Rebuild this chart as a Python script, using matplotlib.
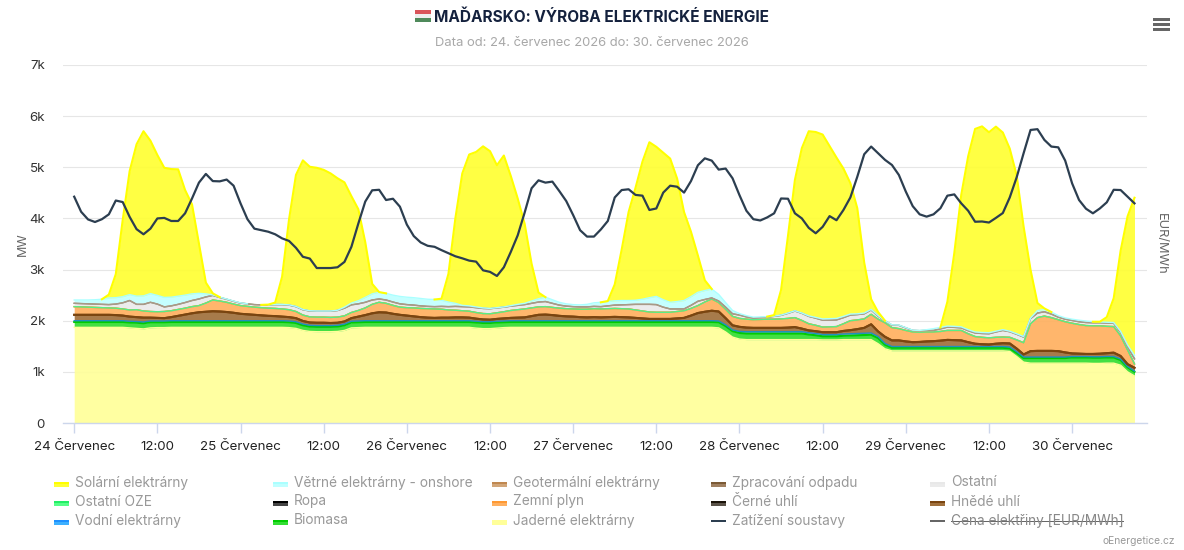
import numpy as np
import matplotlib
matplotlib.use("Agg")
import matplotlib.pyplot as plt
from matplotlib.patches import Rectangle

plt.rcParams['font.family'] = ['Inter', 'DejaVu Sans']

W, H = 1184, 550

tick_hours = [0, 12, 24, 36, 48, 60, 72, 84, 96, 108, 120, 132, 144]
tick_labels = ['24 Červenec', '12:00', '25 Červenec', '12:00', '26 Červenec', '12:00', '27 Červenec',
               '12:00', '28 Červenec', '12:00', '29 Červenec', '12:00', '30 Červenec']
y_ticks = [0, 1000, 2000, 3000, 4000, 5000, 6000, 7000]
y_labels = ['0', '1k', '2k', '3k', '4k', '5k', '6k', '7k']

nuclear = [1870,1870,1870,1870,1870,1870,1870,1870,1860,1850,1840,1860,1865,1865,1870,1870,1870,1870,1870,1870,1870,1870,1870,1870,
           1870,1870,1870,1870,1870,1870,1870,1865,1850,1810,1790,1785,1785,1785,1790,1810,1860,1865,1870,1870,1870,1870,1870,1870,
           1870,1870,1870,1870,1870,1870,1870,1870,1870,1870,1855,1845,1845,1855,1865,1870,1870,1870,1870,1870,1870,1870,1870,1870,
           1870,1870,1870,1870,1870,1870,1870,1870,1870,1870,1870,1870,1870,1870,1870,1870,1870,1870,1870,1870,1870,1860,1780,1680,
           1640,1630,1630,1630,1630,1630,1630,1630,1630,1630,1630,1630,1625,1625,1625,1630,1630,1630,1630,1630,1550,1450,1410,1410,
           1410,1410,1410,1410,1410,1410,1410,1410,1410,1410,1410,1410,1410,1410,1410,1400,1300,1190,1170,1170,1170,1170,1170,1170,
           1170,1170,1170,1165,1165,1170,1170,1130,1000,920]
biomass = [105,105,105,105,105,105,105,105,105,110,110,110,105,105,105,105,105,105,105,105,105,105,105,105,
           105,105,105,105,105,105,105,105,105,100,95,95,95,95,95,100,105,105,105,105,105,105,105,105,
           105,105,105,105,105,105,105,105,105,105,110,110,110,110,105,105,105,105,105,105,105,105,105,105,
           105,105,105,105,105,105,105,105,105,105,105,105,105,105,105,105,105,105,105,105,105,110,115,115,
           120,120,120,120,120,120,120,120,120,120,100,85,70,70,70,75,80,85,90,95,110,80,60,60,
           60,60,60,60,60,60,60,60,60,60,60,60,60,60,60,60,70,80,100,100,100,100,100,100,
           110,110,110,110,110,110,110,100,90,80]
hydro = [25,25,25,25,25,25,25,25,25,25,25,25,25,25,25,25,25,25,25,25,25,25,25,25,
         25,25,25,25,25,25,25,25,25,25,25,25,25,25,25,25,25,25,25,25,25,25,25,25,
         25,25,25,25,25,25,25,25,25,25,25,25,25,25,25,25,25,25,25,25,25,25,25,25,
         25,25,25,25,25,25,25,25,25,25,25,25,25,25,25,25,25,25,25,25,25,25,25,25,
         30,35,35,35,35,35,35,35,35,35,35,35,35,35,35,35,35,35,35,35,30,25,25,25,
         25,25,25,25,25,25,25,25,25,25,25,25,25,25,25,25,25,20,20,20,20,20,20,20,
         20,20,20,20,20,20,20,20,15,15]
lignite = [115,115,115,115,115,115,110,100,90,85,85,65,60,55,70,95,120,145,165,175,185,180,170,155,
           135,125,115,105,95,90,80,75,70,60,55,55,55,50,50,50,60,85,110,145,165,160,135,115,
           100,85,70,60,55,60,60,65,65,60,50,45,40,45,50,55,60,65,90,115,120,110,95,85,
           80,70,65,70,65,70,75,70,65,55,45,35,35,35,35,45,55,100,150,175,195,185,130,90,
           90,80,75,75,75,75,75,80,90,60,45,45,45,45,45,60,70,85,105,170,100,130,120,120,
           100,85,90,100,105,115,130,125,120,85,55,45,40,55,65,70,60,50,115,120,120,120,115,90,
           60,55,50,55,60,65,75,60,45,65]
gas = [160,155,150,145,140,135,135,130,130,145,130,120,120,130,125,125,125,130,130,170,220,205,190,170,
       160,155,150,150,150,150,150,145,130,115,110,110,110,110,110,110,110,120,140,175,195,180,165,150,
       155,165,170,175,175,165,150,140,130,125,120,115,115,120,130,145,155,165,160,155,155,150,150,150,
       150,155,160,165,165,165,165,165,165,155,145,135,130,130,130,135,140,140,145,190,230,175,175,175,
       165,165,160,165,170,170,175,180,185,160,130,115,100,105,110,140,185,180,175,195,240,275,250,230,
       215,200,190,185,180,180,185,190,195,165,140,135,130,125,120,120,170,230,535,650,680,650,615,600,
       590,570,555,550,545,525,510,395,280,75]
other = [65,65,65,65,65,65,80,120,185,105,130,180,150,90,95,100,110,120,130,120,90,70,60,55,
         50,50,50,55,65,75,85,90,95,105,115,115,115,120,130,150,150,130,110,85,65,65,65,65,
         60,55,50,45,45,55,65,75,80,85,95,100,100,95,90,85,85,85,90,95,100,80,60,50,
         45,45,45,45,45,55,65,75,85,110,130,150,150,100,65,50,35,60,85,50,20,30,40,50,
         65,45,30,35,40,55,70,100,130,140,145,140,135,130,130,120,110,105,100,85,60,35,50,65,
         50,30,30,30,30,50,65,60,50,60,70,75,80,105,130,110,110,110,100,90,85,70,50,50,
         55,55,60,60,60,65,65,65,65,100]
wind = [65,70,75,85,100,130,125,120,115,160,165,170,170,185,170,160,145,130,110,60,10,5,5,5,
        5,0,0,0,0,5,5,5,5,5,5,5,5,5,5,20,35,60,95,120,130,130,135,145,
        145,145,145,140,140,120,90,60,25,20,15,10,5,5,5,10,20,25,45,65,85,70,55,45,
        40,40,50,70,85,85,85,85,80,80,100,130,160,145,130,145,165,170,175,175,175,130,90,65,
        30,25,20,15,10,5,5,5,5,5,10,15,25,30,30,25,20,15,15,10,10,5,5,5,
        5,5,5,15,35,30,20,20,20,20,20,20,20,15,15,10,10,10,10,50,45,40,30,25,
        25,30,30,20,15,15,15,20,30,65]
solar = [0,0,0,0,0,65,460,1500,2415,2970,3220,2990,2745,2535,2505,2480,2055,1750,970,220,30,0,0,0,
         0,0,0,0,5,35,540,1670,2570,2915,2815,2800,2760,2690,2580,2440,2090,1790,1080,195,5,0,0,0,
         0,0,0,0,0,30,550,1660,2580,2960,3030,3160,3075,2785,2960,2535,2070,1555,730,120,0,0,0,0,
         0,0,0,0,0,10,320,995,1730,2200,2690,3040,2925,2875,2810,2405,1730,1270,720,200,0,0,0,0,
         0,0,0,0,0,20,490,1510,2560,3225,3610,3625,3605,3375,3145,2890,2560,2065,985,200,70,0,0,0,
         0,0,0,0,0,0,475,1435,2580,3390,3970,4030,3920,4000,3855,3570,3095,2150,945,145,20,0,0,0,
         0,0,0,0,5,100,475,1580,2515,3085]
load = [4425,4130,3980,3930,3985,4080,4350,4320,4030,3790,3690,3800,4000,4010,3950,3950,4100,4390,4700,4870,4730,4725,4760,4640,
        4295,3985,3800,3770,3740,3690,3610,3560,3425,3250,3215,3030,3030,3030,3045,3150,3445,3900,4330,4550,4560,4360,4385,4230,
        3880,3655,3530,3465,3445,3380,3320,3260,3220,3175,3155,2985,2955,2875,3045,3345,3670,4115,4590,4745,4700,4720,4535,4340,
        4065,3770,3645,3645,3785,3950,4410,4555,4570,4460,4445,4165,4195,4505,4640,4620,4505,4730,5040,5175,5130,4955,4975,4785,
        4455,4150,3985,3960,4020,4100,4390,4385,4100,4000,3815,3710,3835,4045,3965,4165,4410,4815,5255,5405,5275,5145,5045,4850,
        4525,4240,4080,4035,4080,4200,4445,4470,4295,4150,3935,3940,3920,4010,4105,4410,4805,5275,5730,5745,5535,5405,5390,5130,
        4685,4360,4190,4100,4195,4315,4560,4555,4425,4295]
zero_series = [0] * len(nuclear)

hours = np.arange(len(nuclear))

stack = [
    ('Jaderné elektrárny', nuclear, '#ffff99', '#ffff99'),
    ('Biomasa', biomass, '#33dd33', '#00cc00'),
    ('Vodní elektrárny', hydro, '#3db0ff', '#1e90c0'),
    ('Hnědé uhlí', lignite, '#a0703c', '#7a4510'),
    ('Černé uhlí', zero_series, '#5a5248', '#7a4510'),
    ('Zemní plyn', gas, '#ffb060', '#ff9933'),
    ('Ropa', zero_series, '#444444', '#ff9933'),
    ('Ostatní OZE', zero_series, '#55ff88', '#55ee88'),
    ('Ostatní', other, '#ebebeb', '#e4e4e4'),
    ('Zpracování odpadu', zero_series, '#a08060', '#9a8a70'),
    ('Geotermální elektrárny', zero_series, '#d2a679', '#a89a88'),
    ('Větrné elektrárny - onshore', wind, '#c0ffff', '#aaffff'),
    ('Solární elektrárny', solar, '#ffff33', '#ffff00'),
]

fig = plt.figure(figsize=(W / 100, H / 100), dpi=100)
L, R, T, B = 63, 1147, 65, 423
ax = fig.add_axes([L / W, 1 - B / H, (R - L) / W, (B - T) / H])
ax.set_xlim((L - 74.2) / 6.93, (R - 74.2) / 6.93)
ax.set_ylim(0, 7000)

base = np.zeros(len(hours))
for name, vals, fill, line in stack:
    v = np.array(vals, dtype=float)
    top = base + v
    ax.fill_between(hours, base, top, color=fill, lw=0, alpha=0.92, zorder=2)
    lt = top.copy()
    if name in ('Solární elektrárny', 'Větrné elektrárny - onshore'):
        on = np.convolve(v > 0, [1, 1, 1], mode='same') > 0
        lt[~on] = np.nan
    lw = 1.5 if name in ('Hnědé uhlí', 'Solární elektrárny', 'Biomasa', 'Černé uhlí') else 1.0
    ax.plot(hours, lt, color=line, lw=lw, zorder=3, solid_joinstyle='round')
    base = top

ax.plot(hours, load, color='#2c3e50', lw=1.6, zorder=5, solid_joinstyle='round')

for s in ('top', 'left', 'right'):
    ax.spines[s].set_visible(False)
ax.spines['bottom'].set_color('#ccd6eb')
ax.spines['bottom'].set_linewidth(1)
ax.set_yticks(y_ticks)
ax.set_yticklabels(y_labels, fontsize=9.6, color='#333333')
ax.tick_params(axis='y', length=0, pad=13)
ax.yaxis.grid(True, color='#e6e6e6', lw=0.8, zorder=0)
ax.set_axisbelow(True)
ax.set_xticks(tick_hours)
ax.set_xticklabels(tick_labels, fontsize=9.6, color='#222222')
ax.tick_params(axis='x', length=7.2, width=1, color='#ccd6eb', pad=6)


def px(x, y):
    return x / W, 1 - y / H


def ftext(x, y, s, **kw):
    xx, yy = px(x, y)
    return fig.text(xx, yy, s, va=kw.pop('va', 'center'), **kw)


def frect(x0, y0, x1, y1, color):
    xa, ya = px(x0, y1)
    fig.add_artist(Rectangle((xa, ya), (x1 - x0) / W, (y1 - y0) / H, transform=fig.transFigure,
                             facecolor=color, edgecolor='none'))


ftext(22.5, 244, 'MW', rotation=90, ha='center', fontsize=9, color='#666666')
ftext(1160.5, 244, 'EUR/MWh', rotation=270, ha='center', fontsize=9.2, color='#666666')

ftext(602, 17.5, 'MAĎARSKO: VÝROBA ELEKTRICKÉ ENERGIE', ha='center', fontsize=11.1, fontweight='bold', color='#14213d')
ftext(592, 43.5, 'Data od: 24. červenec 2026 do: 30. červenec 2026', ha='center', fontsize=9.35, color='#a8a8a8')
frect(415, 10, 431, 14, '#d9545a')
frect(415, 14, 431, 18, '#eeeeee')
frect(415, 18, 431, 22, '#4f8a5b')

for y in (19.5, 24.5, 29.5):
    frect(1152.5, y - 1.5, 1169.5, y + 1.5, '#666666')

cols = [(54, 75), (273, 294), (492, 513), (711, 732), (930, 951)]
rows = [483, 502, 521]
entries = [
    ('Solární elektrárny', '#ffff33', '#ffff00'), ('Větrné elektrárny - onshore', '#c0ffff', '#aaffff'),
    ('Geotermální elektrárny', '#d2a679', '#c08850'), ('Zpracování odpadu', '#a08060', '#7b5a35'),
    ('Ostatní', '#ebebeb', '#e8e8e8'),
    ('Ostatní OZE', '#55ff88', '#22ee66'), ('Ropa', '#444444', '#000000'),
    ('Zemní plyn', '#ffb060', '#ff9933'), ('Černé uhlí', '#5a5248', '#1a1208'),
    ('Hnědé uhlí', '#a0703c', '#7a4510'),
    ('Vodní elektrárny', '#3db0ff', '#1e90ff'), ('Biomasa', '#33dd33', '#00cc00'),
    ('Jaderné elektrárny', '#ffff99', '#ffff99'),
]
for i, (name, fill, line) in enumerate(entries):
    c = cols[i % 5]
    y = rows[i // 5]
    frect(c[0], y - 0.5, c[0] + 15, y + 4, fill)
    frect(c[0], y - 1.5, c[0] + 15, y + 0.5, line)
    ftext(c[1], y - 0.5, name, ha='left', fontsize=9.85, color='#999999')

c = cols[3]
frect(c[0], rows[2] - 1, c[0] + 15, rows[2] + 0.8, '#2c3e50')
ftext(c[1], rows[2] - 0.5, 'Zatížení soustavy', ha='left', fontsize=9.85, color='#999999')

c = cols[4]
frect(c[0], rows[2] - 1, c[0] + 15, rows[2] + 0.8, '#666666')
price_txt = ftext(c[1], rows[2] - 0.5, 'Cena elektřiny [EUR/MWh]', ha='left', fontsize=9.85, color='#888888')
fig.canvas.draw()
bb = price_txt.get_window_extent()
frect(bb.x0, rows[2] - 0.5, bb.x1, rows[2] + 0.5, '#666666')

ftext(1175, 541, 'oEnergetice.cz', ha='right', fontsize=7.4, color='#999999')

fig.savefig('out.png', dpi=100)
